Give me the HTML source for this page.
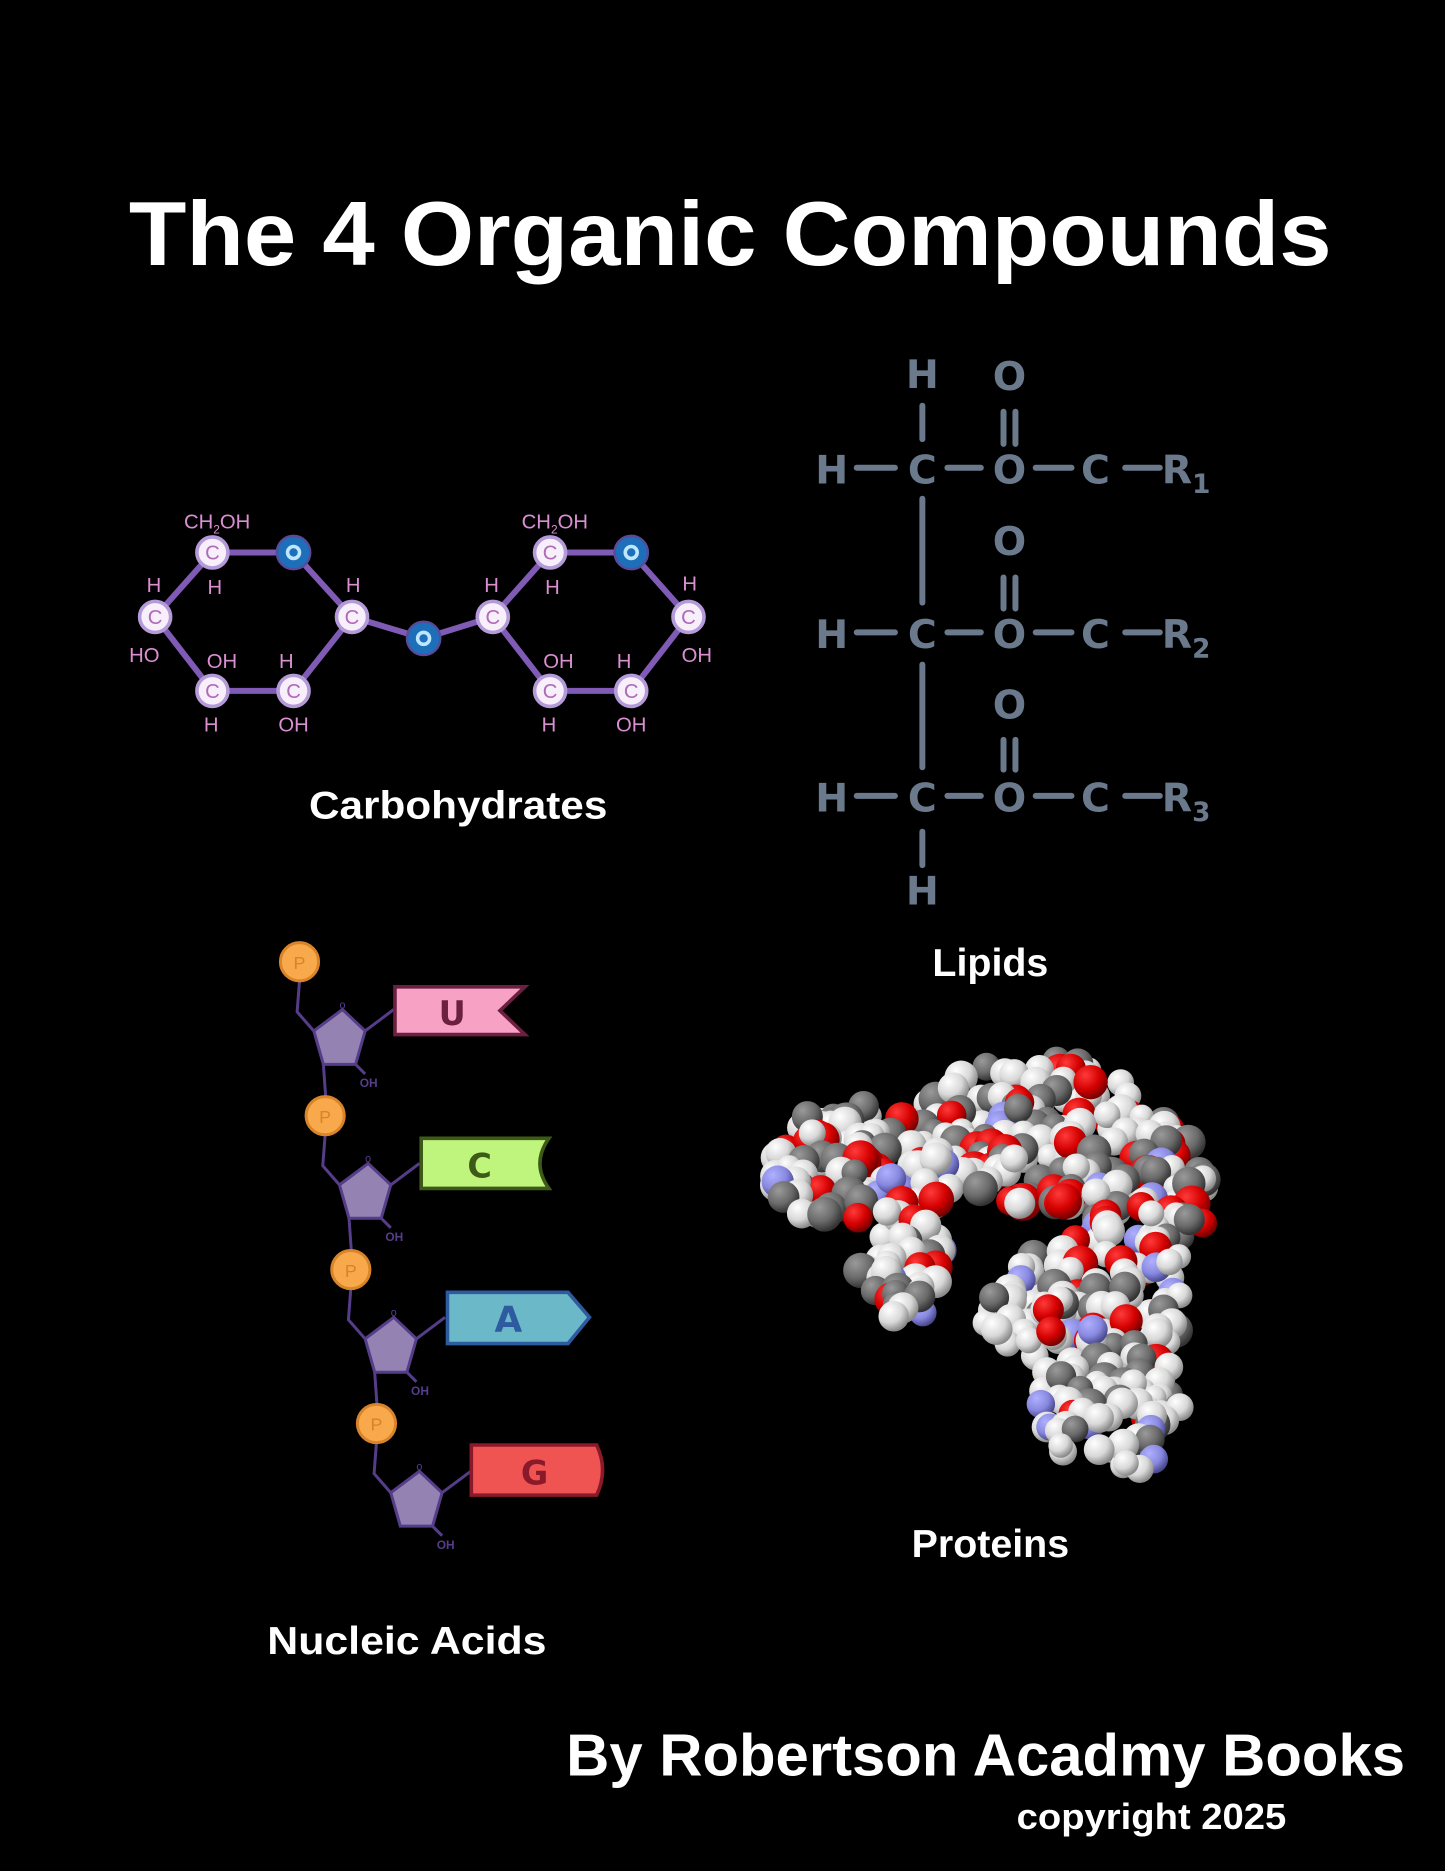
<!DOCTYPE html>
<html><head><meta charset="utf-8">
<style>
html,body{margin:0;padding:0;background:#000;}
svg{display:block;}
.t{font-family:"Liberation Sans",sans-serif;font-weight:bold;fill:#fff;}
.pk{font-family:"Liberation Sans",sans-serif;fill:#d98fd0;font-size:17px;text-anchor:middle;}
.lp{font-family:"DejaVu Sans","Liberation Sans",sans-serif;font-weight:bold;fill:#6a7a8c;font-size:33px;text-anchor:middle;}
</style></head>
<body>
<svg id="s" width="1445" height="1871" viewBox="0 0 1211 1568" xmlns="http://www.w3.org/2000/svg">
<defs>
<radialGradient id="gw" cx="35%" cy="30%" r="70%"><stop offset="0" stop-color="#fff"/><stop offset="0.6" stop-color="#d8d8d8"/><stop offset="1" stop-color="#8a8a8a"/></radialGradient>
<radialGradient id="gg" cx="35%" cy="30%" r="70%"><stop offset="0" stop-color="#9a9a9a"/><stop offset="0.6" stop-color="#6a6a6a"/><stop offset="1" stop-color="#333"/></radialGradient>
<radialGradient id="gr" cx="35%" cy="30%" r="70%"><stop offset="0" stop-color="#ff3a3a"/><stop offset="0.6" stop-color="#d40000"/><stop offset="1" stop-color="#700"/></radialGradient>
<radialGradient id="gb" cx="35%" cy="30%" r="70%"><stop offset="0" stop-color="#b0b0ff"/><stop offset="0.6" stop-color="#8888e0"/><stop offset="1" stop-color="#4a4a90"/></radialGradient>
</defs>
<rect width="1211" height="1568" fill="#000"/>
<text class="t" x="612" y="222" font-size="76" text-anchor="middle" textLength="1008" lengthAdjust="spacingAndGlyphs">The 4 Organic Compounds</text>

<!-- Carbohydrates -->
<g stroke="#7f5bb5" stroke-width="5" fill="none">
<polyline points="178,463 246,463 295,517 246,579 178,579 130,517 178,463"/>
<polyline points="295,517 355,535 413,517"/>
<polyline points="461,463 529,463 577,517 529,579 461,579 413,517 461,463"/>
</g>
<g font-family="Liberation Sans,sans-serif" font-size="17" text-anchor="middle">
<g fill="#f7f0fb" stroke="#b49ad8" stroke-width="3">
<circle cx="178" cy="463" r="13"/><circle cx="130" cy="517" r="13"/><circle cx="178" cy="579" r="13"/><circle cx="246" cy="579" r="13"/><circle cx="295" cy="517" r="13"/>
<circle cx="461" cy="463" r="13"/><circle cx="413" cy="517" r="13"/><circle cx="461" cy="579" r="13"/><circle cx="529" cy="579" r="13"/><circle cx="577" cy="517" r="13"/>
</g>
<g fill="#b06bb8">
<text x="178" y="469">C</text><text x="130" y="523">C</text><text x="178" y="585">C</text><text x="246" y="585">C</text><text x="295" y="523">C</text>
<text x="461" y="469">C</text><text x="413" y="523">C</text><text x="461" y="585">C</text><text x="529" y="585">C</text><text x="577" y="523">C</text>
</g>
<g fill="#1c6fb8" stroke="#5a4a9a" stroke-width="2">
<circle cx="246" cy="463" r="14"/><circle cx="529" cy="463" r="14"/><circle cx="355" cy="535" r="14"/>
</g>
<g fill="none" stroke="#bfe6ff" stroke-width="3">
<circle cx="246" cy="463" r="5"/><circle cx="529" cy="463" r="5"/><circle cx="355" cy="535" r="5"/>
</g>
</g>
<g class="pk">
<text x="182" y="443">CH<tspan font-size="10" dy="4">2</tspan><tspan dy="-4">OH</tspan></text>
<text x="129" y="496">H</text><text x="180" y="498">H</text><text x="296" y="496">H</text>
<text x="121" y="555">HO</text><text x="186" y="560">OH</text><text x="240" y="560">H</text>
<text x="177" y="613">H</text><text x="246" y="613">OH</text>
<text x="465" y="443">CH<tspan font-size="10" dy="4">2</tspan><tspan dy="-4">OH</tspan></text>
<text x="412" y="496">H</text><text x="463" y="498">H</text><text x="578" y="495">H</text>
<text x="468" y="560">OH</text><text x="523" y="560">H</text><text x="584" y="555">OH</text>
<text x="460" y="613">H</text><text x="529" y="613">OH</text>
</g>
<text class="t" x="384" y="686" font-size="33" text-anchor="middle" textLength="250" lengthAdjust="spacingAndGlyphs">Carbohydrates</text>

<!-- Lipids -->
<g stroke="#6a7a8c" stroke-width="5" stroke-linecap="round">
<line x1="773" y1="340" x2="773" y2="368"/>
<line x1="773" y1="418" x2="773" y2="505"/>
<line x1="773" y1="557" x2="773" y2="643"/>
<line x1="773" y1="697" x2="773" y2="725"/>
<line x1="841" y1="345" x2="841" y2="372"/><line x1="851" y1="345" x2="851" y2="372"/>
<line x1="841" y1="484" x2="841" y2="510"/><line x1="851" y1="484" x2="851" y2="510"/>
<line x1="841" y1="620" x2="841" y2="645"/><line x1="851" y1="620" x2="851" y2="645"/>
<line x1="718" y1="392" x2="750" y2="392"/><line x1="794" y1="392" x2="822" y2="392"/><line x1="868" y1="392" x2="898" y2="392"/><line x1="943" y1="392" x2="972" y2="392"/>
<line x1="718" y1="530" x2="750" y2="530"/><line x1="794" y1="530" x2="822" y2="530"/><line x1="868" y1="530" x2="898" y2="530"/><line x1="943" y1="530" x2="972" y2="530"/>
<line x1="718" y1="667" x2="750" y2="667"/><line x1="794" y1="667" x2="822" y2="667"/><line x1="868" y1="667" x2="898" y2="667"/><line x1="943" y1="667" x2="972" y2="667"/>
</g>
<g class="lp">
<text x="773" y="325">H</text><text x="846" y="327">O</text>
<text x="697" y="405">H</text><text x="773" y="405">C</text><text x="846" y="405">O</text><text x="918" y="405">C</text><text x="994" y="405">R<tspan font-size="22" dy="8">1</tspan></text>
<text x="846" y="465">O</text>
<text x="697" y="543">H</text><text x="773" y="543">C</text><text x="846" y="543">O</text><text x="918" y="543">C</text><text x="994" y="543">R<tspan font-size="22" dy="8">2</tspan></text>
<text x="846" y="602">O</text>
<text x="697" y="680">H</text><text x="773" y="680">C</text><text x="846" y="680">O</text><text x="918" y="680">C</text><text x="994" y="680">R<tspan font-size="22" dy="8">3</tspan></text>
<text x="773" y="758">H</text>
</g>
<text class="t" x="830" y="818" font-size="33" text-anchor="middle">Lipids</text>

<!-- Nucleic acids -->
<g id="nuc" stroke="#553d8a" stroke-width="2.5">
<g transform="translate(0,0)">
<polyline points="251,822 249,848 263,864" fill="none"/><polyline class="tail" points="271,892 273,920" fill="none"/>
<line x1="306" y1="864" x2="330" y2="846"/><line x1="298" y1="892" x2="306" y2="900"/>
<polygon points="287,846 306,864 298,892 271,892 263,864" fill="#9482b3"/>
<circle cx="251" cy="806" r="16" fill="#f7a94b" stroke="#d98428"/>
<text x="251" y="812" font-size="15" fill="#d98428" stroke="none" text-anchor="middle" font-family="Liberation Sans,sans-serif">P</text>
<text x="309" y="911" font-size="10" fill="#553d8a" stroke="none" text-anchor="middle" font-family="Liberation Sans,sans-serif" font-weight="bold">OH</text>
<text x="287" y="845" font-size="9" fill="#553d8a" stroke="none" text-anchor="middle" font-family="Liberation Sans,sans-serif">o</text>
</g>
</g>
<polygon points="331,827 440,827 419,847 440,867 331,867" fill="#f7a1c4" stroke="#6b2040" stroke-width="3"/>
<text x="379" y="859" font-family="DejaVu Sans,sans-serif" font-weight="bold" font-size="28" fill="#6b2040" text-anchor="middle">U</text>
<path d="M353,954 L460,954 Q445,975 460,996 L353,996 Z" fill="#c0f57d" stroke="#3d5a17" stroke-width="3"/>
<text x="402" y="987" font-family="DejaVu Sans,sans-serif" font-weight="bold" font-size="28" fill="#3d5a17" text-anchor="middle">C</text>
<polygon points="375,1083 476,1083 494,1104 476,1126 375,1126" fill="#6bb8c8" stroke="#2e5aa0" stroke-width="3"/>
<text x="426" y="1116" font-family="DejaVu Sans,sans-serif" font-weight="bold" font-size="30" fill="#2e5aa0" text-anchor="middle">A</text>
<path d="M395,1211 L500,1211 Q510,1232 500,1253 L395,1253 Z" fill="#ef5352" stroke="#8a1a2a" stroke-width="3"/>
<text x="448" y="1244" font-family="DejaVu Sans,sans-serif" font-weight="bold" font-size="28" fill="#8a1a2a" text-anchor="middle">G</text>
<text class="t" x="341" y="1386" font-size="33" text-anchor="middle" textLength="234" lengthAdjust="spacingAndGlyphs">Nucleic Acids</text>

<g id="prot"></g>
<text class="t" x="830" y="1305" font-size="33" text-anchor="middle">Proteins</text>

<text class="t" x="826" y="1488" font-size="50" text-anchor="middle" textLength="703" lengthAdjust="spacingAndGlyphs">By Robertson Acadmy Books</text>
<text class="t" x="965" y="1533" font-size="30" text-anchor="middle" textLength="226" lengthAdjust="spacingAndGlyphs">copyright 2025</text>
</svg>
<script>
(function(){
var NS="http://www.w3.org/2000/svg";
var nuc=document.getElementById("nuc"), base=nuc.firstElementChild;
for(var i=1;i<4;i++){var c=base.cloneNode(true);c.setAttribute("transform","translate("+(21.5*i)+","+(129*i)+")");
 if(i==3){var t=c.querySelector(".tail");t.parentNode.removeChild(t);}
 nuc.appendChild(c);}
var seed=11;function r(){seed=(seed*16807)%2147483647;return (seed-1)/2147483646;}
var E=[[725,978,85,52],[757,1060,38,45],[868,950,100,62],[960,1000,52,65],[908,1095,85,58],[930,1175,62,62],[880,912,50,28]];
var pts=[];
for(var k=0;k<6000&&pts.length<520;k++){
 var x=630+r()*395,y=875+r()*375,ok=false;
 for(var j=0;j<E.length;j++){var e=E[j];var dx=(x-e[0])/e[2],dy=(y-e[1])/e[3];if(dx*dx+dy*dy<1){ok=true;break;}}
 if(x>798&&x<824&&y>1012&&y<1110)ok=false;
 if(ok)pts.push([x,y]);
}
pts.sort(function(a,b){return a[1]-b[1]+(r()-0.5)*40;});
var g=document.getElementById("prot");
pts.forEach(function(p){
 var v=r(),f,rad;
 if(v<0.58){f="gw";rad=10+r()*4;}else if(v<0.78){f="gg";rad=11+r()*4;}else if(v<0.94){f="gr";rad=12+r()*4;}else{f="gb";rad=11+r()*3;}
 var c=document.createElementNS(NS,"circle");c.setAttribute("cx",p[0].toFixed(1));c.setAttribute("cy",p[1].toFixed(1));c.setAttribute("r",rad.toFixed(1));c.setAttribute("fill","url(#"+f+")");g.appendChild(c);
});
})();
</script>
</body></html>
